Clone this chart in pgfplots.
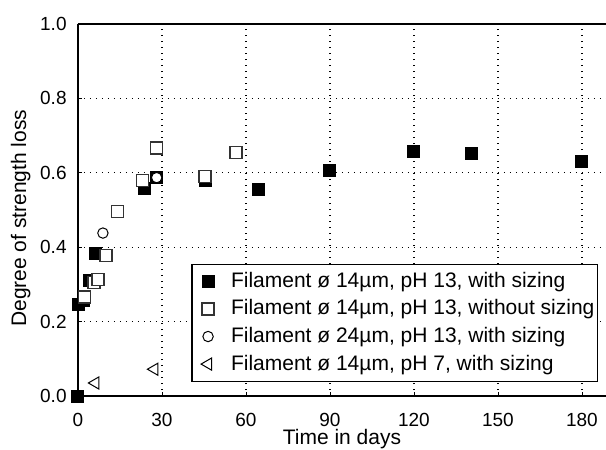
\documentclass[border=0pt]{standalone}
\usepackage{fontspec}
\setmainfont{Liberation Sans}
\usepackage{pgfplots}
\pgfplotsset{compat=1.18}
\begin{document}
\fontsize{10.5pt}{12pt}\selectfont
\begin{tikzpicture}
\begin{axis}[
  name=ax,
  at={(0,0)}, anchor=south west,
  scale only axis, width=264pt, height=186pt,
  xmin=0, xmax=188.6, ymin=0, ymax=1,
  axis x line*=bottom, axis y line*=left,
  axis line style={black, line width=0.6pt},
  xtick={0,30,...,180}, ytick={0,0.2,...,1.0},
  yticklabel style={/pgf/number format/fixed, /pgf/number format/fixed zerofill, /pgf/number format/precision=1, xshift=-2pt},
  xticklabel style={yshift=-5pt},
  /pgf/number format/assume math mode=true,
  ticklabel style={font=\fontsize{9.5pt}{11pt}\selectfont},
  tick align=inside, major tick length=2pt,
  tick style={black, line width=0.4pt},
  grid=major, grid style={black, line width=0.6pt, dash pattern=on 0.6pt off 2.4pt},
  clip=false,
  xlabel={Time in days},
  xlabel style={at={(axis description cs:0.5,0)}, anchor=north, yshift=-13pt, font=\fontsize{10.5pt}{12pt}\selectfont},
  ylabel={Degree of strength loss},
  ylabel style={at={(axis description cs:0,0.478)}, anchor=south, yshift=20pt, font=\fontsize{10.5pt}{12pt}\selectfont},
  legend image code/.code={\path[draw=none,fill=none] (-7.5pt,0pt) rectangle (3pt,0pt); \draw[#1] plot coordinates {(0pt,0pt)};},
  legend style={at={(0.985,0.038)}, anchor=south east, draw=black, line width=0.6pt,
    font=\fontsize{10.5pt}{12pt}\selectfont, row sep=0.6pt, inner xsep=0.5pt, inner ysep=2pt,
    nodes={inner xsep=1pt},
    cells={anchor=west},
    /tikz/every odd column/.append style={column sep=7.5pt}},
  legend image post style={line width=0.5pt},
]
\addplot[only marks, mark=square*, mark size=3pt, mark options={fill=black, draw=black, line width=0.5pt}]
  coordinates {(0,0) (0.3,0.245) (1.8,0.258) (4.2,0.31) (6.3,0.384) (23.9,0.559) (28.1,0.587)
               (45.4,0.578) (64.4,0.556) (90,0.606) (120,0.657) (140.4,0.651) (180,0.631)};
\addlegendentry{Filament ø 14µm, pH 13, with sizing}
\addplot[only marks, mark=square*, mark size=3pt, mark options={fill=white, draw=black!80, line width=0.7pt}]
  coordinates {(2.4,0.266) (5.7,0.305) (7.1,0.313) (10,0.378) (14.2,0.496) (23.1,0.58) (28.1,0.667)
               (45.4,0.59) (56.4,0.655)};
\addlegendentry{Filament ø 14µm, pH 13, without sizing}
\addplot[only marks, mark=*, mark size=2.6pt, mark options={fill=white, draw=black, line width=0.5pt}]
  coordinates {(8.9,0.438) (28.1,0.587)};
\addlegendentry{Filament ø 24µm, pH 13, with sizing}
\addplot[only marks, mark=triangle, mark size=3.5pt, mark options={rotate=90, draw=black, line width=0.5pt}]
  coordinates {(6.2,0.035) (27.3,0.072)};
\addlegendentry{Filament ø 14µm, pH 7, with sizing}
\draw[black, line width=0.6pt] (rel axis cs:0,1) -- (rel axis cs:1,1);
\end{axis}
\pgfresetboundingbox
\path[use as bounding box] ([shift={(-39pt,-27pt)}]ax.south west) rectangle ([shift={(0pt,12pt)}]ax.north east);
\end{tikzpicture}
\end{document}
